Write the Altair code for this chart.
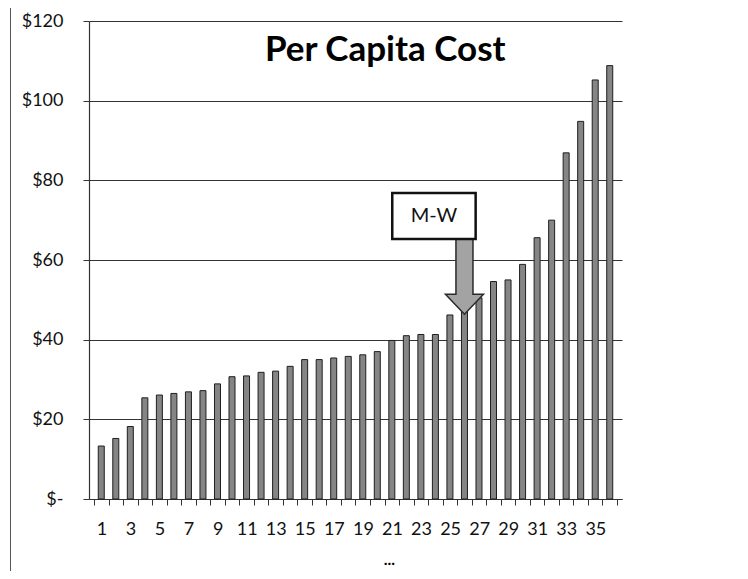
import altair as alt
import pandas as pd

# ---- data ----
categories = list(range(1, 37))
per_capita = [13.3, 15.2, 18.2, 25.4, 26.1, 26.5, 26.9, 27.2, 28.9, 30.7,
              30.9, 31.8, 32.1, 33.3, 35.0, 35.0, 35.4, 35.8, 36.2, 37.0,
              39.8, 41.0, 41.3, 41.3, 46.2, 47.5, 50.5, 54.6, 55.0, 58.9,
              65.6, 70.0, 86.9, 94.8, 105.2, 108.8]
y_ticks = [0, 20, 40, 60, 80, 100, 120]
title_text = ["Per Capita Cost"]
callout_label = ["M-W"]
callout_category = [26]
footer_text = ["..."]

# ---- layout ----
W, H = 533, 478
n = len(categories)
band = W / n
x_scale = alt.Scale(domain=[0.5, n + 0.5], nice=False, zero=False)
y_scale = alt.Scale(domain=[0, 120], nice=False)
boundaries = [c - 0.5 for c in categories] + [n + 0.5]

FONT = "Lato"
INK = "#111111"
LINE = "#333333"

x_axis = alt.Axis(
    values=boundaries,
    labelExpr=f"((datum.value + 0.5) % 2 == 1 && datum.value < {n}) ? '' + (datum.value + 0.5) : ''",
    labelOffset=band / 2,
    labelOverlap=False,
    labelFlush=False,
    labelFont=FONT, labelFontSize=18, labelColor=INK,
    labelPadding=15,
    tickSize=6, tickColor=LINE, domainColor=LINE, domainWidth=1,
    grid=False, title=None,
)
y_axis = alt.Axis(
    values=y_ticks,
    labelExpr="datum.value == 0 ? '$-\u00a0\u00a0\u00a0\u00a0' : '$' + datum.value",
    labelOverlap=False,
    labelFont=FONT, labelFontSize=18, labelColor=INK,
    labelPadding=20,
    tickSize=6, tickColor=LINE, domainColor=LINE, domainWidth=1.2,
    grid=True, gridColor=LINE, gridWidth=1, title=None,
)


def X(field):
    return alt.X(field, type="quantitative", scale=x_scale, axis=x_axis)


def Y(field):
    return alt.Y(field, type="quantitative", scale=y_scale, axis=y_axis)


bars_df = pd.DataFrame({"cat": categories, "cost": per_capita})

bars = alt.Chart(bars_df).mark_bar(
    orient="vertical", size=6, fill="#858585", stroke="#1f1f1f", strokeWidth=1
).encode(x=X("cat"), y=Y("cost"))

# callout box (data coordinates)
box_df = pd.DataFrame({"x": [21.03], "x2": [26.77], "y": [76.8], "y2": [65.3],
                       "xc": [23.9], "yc": [71.0], "label": callout_label})
box = alt.Chart(box_df).mark_rect(fill="white", stroke="#111", strokeWidth=2.5).encode(
    x=X("x"), x2="x2:Q", y=Y("y"), y2="y2:Q",
)
box_text = alt.Chart(box_df).mark_text(
    font=FONT, fontSize=20, color=INK, align="center", baseline="middle"
).encode(x=X("xc"), y=Y("yc"), text="label:N")

# block arrow pointing down at the callout category
arrow_path = ("M -0.227 -1 L 0.227 -1 L 0.227 0.467 L 0.507 0.467 "
              "L 0 1 L -0.507 0.467 L -0.227 0.467 Z")
arrow_df = pd.DataFrame({"cat": callout_category, "yc": [55.8]})
arrow = alt.Chart(arrow_df).mark_point(
    shape=arrow_path, size=5625, filled=True, fill="#a3a3a3", stroke="#2a2a2a",
    strokeWidth=1.5, opacity=1
).encode(x=X("cat"), y=Y("yc"))

# chart title inside the plot
title_df = pd.DataFrame({"x": [20.55], "y": [110.0], "t": title_text})
title = alt.Chart(title_df).mark_text(
    font=FONT, fontSize=35, fontWeight="bold", color="#000", align="center",
    baseline="alphabetic"
).encode(x=X("x"), y=Y("y"), text="t:N")

footer_df = pd.DataFrame({"x": [20.83], "y": [-16.6], "t": footer_text})
footer = alt.Chart(footer_df).mark_text(
    font=FONT, fontSize=16, fontWeight="bold", color="#000", align="center",
    baseline="alphabetic"
).encode(x=X("x"), y=Y("y"), text="t:N")

# outer frame (left edge of the original chart box)
frame = alt.Chart(pd.DataFrame({"a": [0]})).mark_rule(color="#555", strokeWidth=1).encode(
    x=alt.value(-78.5), y=alt.value(-13), y2=alt.value(H + 72)
)

chart = alt.layer(bars, arrow, box, box_text, title, footer, frame).properties(
    width=W, height=H, autosize="none",
    padding={"left": 81, "top": 13, "right": 118, "bottom": 72},
    background="white",
).configure_view(strokeWidth=0).configure_axis(labelOverlap=False)

chart.save("out.html", embed_options={"renderer": "svg", "actions": False})
